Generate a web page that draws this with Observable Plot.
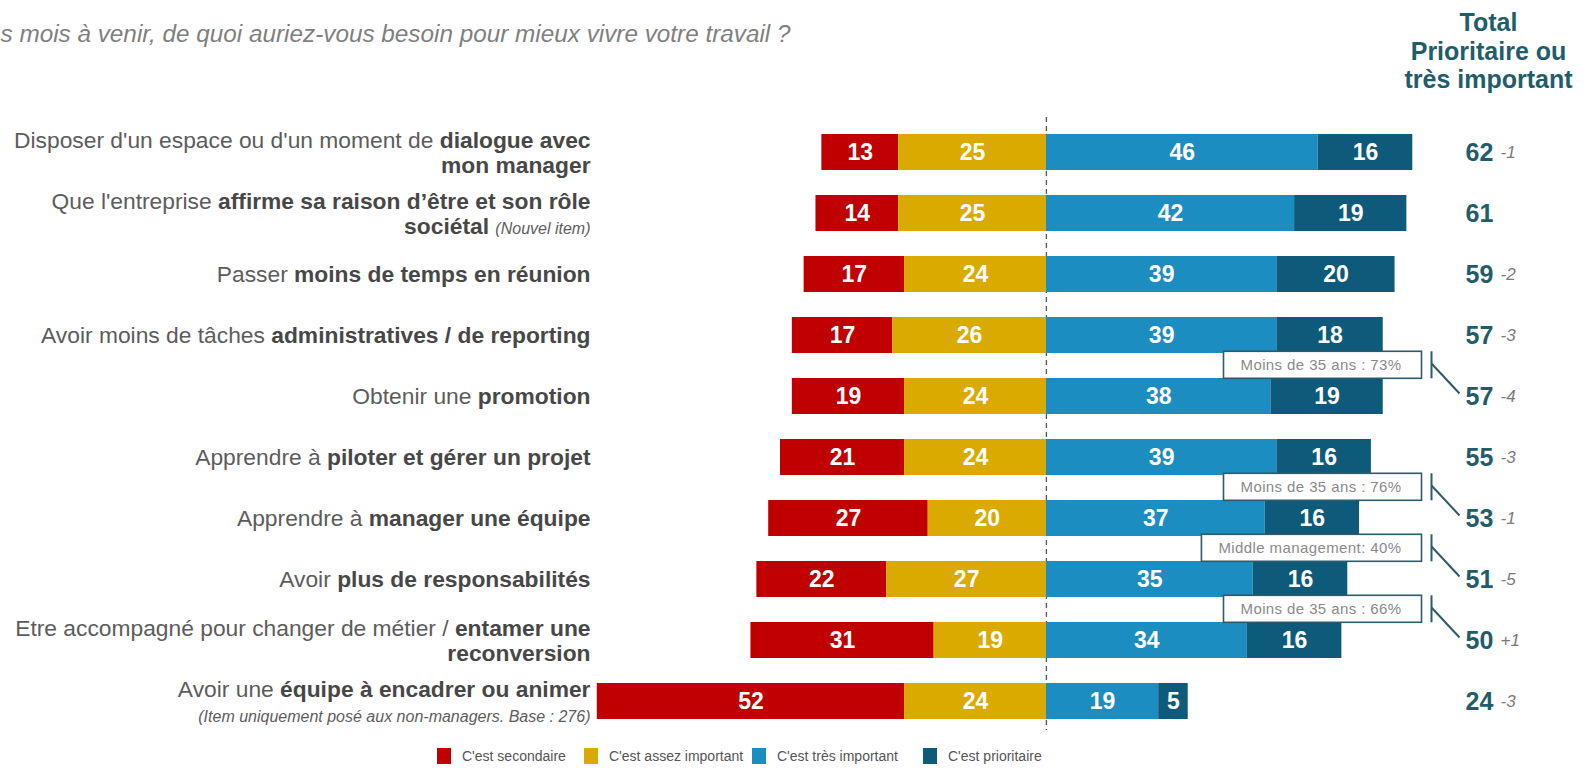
<!DOCTYPE html>
<html><head><meta charset="utf-8">
<script src="https://cdn.jsdelivr.net/npm/d3@7"></script>
<script src="https://cdn.jsdelivr.net/npm/@observablehq/plot@0.6"></script>
<style>
html,body{margin:0;padding:0;background:#fff;width:1586px;height:774px;overflow:hidden;font-family:'Liberation Sans',Arial,sans-serif;}
#legend{position:relative;height:52px;}
.item{position:absolute;top:0;height:52px;display:flex;align-items:center;font-size:14px;color:#555;white-space:nowrap;}
.sw{width:14px;height:16px;margin-right:11px;}
</style></head><body><div id="chart"></div><div id="legend"></div>
<script>
const categories = [
  "Disposer d'un espace ou d'un moment de dialogue avec mon manager",
  "Que l'entreprise affirme sa raison d’être et son rôle sociétal",
  "Passer moins de temps en réunion",
  "Avoir moins de tâches administratives / de reporting",
  "Obtenir une promotion",
  "Apprendre à piloter et gérer un projet",
  "Apprendre à manager une équipe",
  "Avoir plus de responsabilités",
  "Etre accompagné pour changer de métier / entamer une reconversion",
  "Avoir une équipe à encadrer ou animer"
];
const labelMarkup = [
  "Disposer d'un espace ou d'un moment de **dialogue avec**\n**mon manager**",
  "Que l'entreprise **affirme sa raison d’être et son rôle**\n**sociétal** _(Nouvel item)_",
  "Passer **moins de temps en réunion**",
  "Avoir moins de tâches **administratives / de reporting**",
  "Obtenir une **promotion**",
  "Apprendre à **piloter et gérer un projet**",
  "Apprendre à **manager une équipe**",
  "Avoir **plus de responsabilités**",
  "Etre accompagné pour changer de métier / **entamer une**\n**reconversion**",
  "Avoir une **équipe à encadrer ou animer**\n_(Item uniquement posé aux non-managers. Base : 276)_"
];
const series = ["C'est secondaire", "C'est assez important", "C'est très important", "C'est prioritaire"];
const colors = ["#c00000", "#dbaa00", "#1b8dc1", "#0e5a7b"];
const secondaire = [13, 14, 17, 17, 19, 21, 27, 22, 31, 52];
const assez = [25, 25, 24, 26, 24, 24, 20, 27, 19, 24];
const tres = [46, 42, 39, 39, 38, 39, 37, 35, 34, 19];
const prioritaire = [16, 19, 20, 18, 19, 16, 16, 16, 16, 5];
const totals = [62, 61, 59, 57, 57, 55, 53, 51, 50, 24];
const changes = ["-1", "", "-2", "-3", "-4", "-3", "-1", "-5", "+1", "-3"];
const annotationRows = [4, 6, 7, 8];
const annotationTexts = ["Moins de 35 ans : 73%", "Moins de 35 ans : 76%", "Middle management: 40%", "Moins de 35 ans : 66%"];
const titleText = "s mois à venir, de quoi auriez-vous besoin pour mieux vivre votre travail ?";
const headerText = "Total\nPrioritaire ou\ntrès important";

const rows = [];
categories.forEach((c, i) => {
  rows.push({cat: c, s: series[0], v: -secondaire[i], n: secondaire[i]});
  rows.push({cat: c, s: series[1], v: -assez[i], n: assez[i]});
  rows.push({cat: c, s: series[2], v: tres[i], n: tres[i]});
  rows.push({cat: c, s: series[3], v: prioritaire[i], n: prioritaire[i]});
});
const stackOrder = [series[1], series[0], series[2], series[3]];
const strip = s => s.replace(/\*\*/g, "").replace(/_/g, "");
const ann = annotationRows.map((r, k) => ({cat: categories[r], t: annotationTexts[k]}));

const teal = "#1f5d6b";
const plot = Plot.plot({
  width: 1586, height: 730,
  marginLeft: 0, marginRight: 0, marginTop: 0, marginBottom: 0,
  style: {fontFamily: "'Liberation Sans', Arial, sans-serif", background: "white", overflow: "visible"},
  x: {domain: [-177, 91.4], range: [0, 1586], axis: null},
  y: {domain: categories, range: [117, 735], paddingInner: 0.41, paddingOuter: 0.205, axis: null},
  color: {domain: series, range: colors},
  marks: [
    Plot.ruleX([0], {stroke: "#555", strokeWidth: 1.3, strokeDasharray: "5,4", insetTop: 117}),
    Plot.barX(rows, Plot.stackX({x: "v", y: "cat", fill: "s", order: stackOrder})),
    Plot.text(rows, Plot.stackX({x: "v", y: "cat", z: "s", order: stackOrder, text: "n", fill: "white", fontWeight: "bold", fontSize: 23})),
    Plot.text(categories, {y: d => d, text: (d, i) => strip(labelMarkup[i]), frameAnchor: "left", dx: 590, textAnchor: "end", fontSize: 22.8, fill: "#5c5c5c", className: "lbl"}),
    Plot.text(categories, {y: d => d, text: (d, i) => String(totals[i]), frameAnchor: "left", dx: 1465, textAnchor: "start", fontSize: 25, fontWeight: "bold", fill: teal}),
    Plot.text(categories, {y: d => d, text: (d, i) => changes[i], frameAnchor: "left", dx: 1500, textAnchor: "start", fontSize: 17, fontStyle: "italic", fill: "#7a7a7a"}),
    Plot.text(ann, {y: "cat", text: "t", frameAnchor: "left", dx: 1401, dy: -31, textAnchor: "end", fontSize: 15, fill: "#8a8a8a", className: "ann"}),
    Plot.text([titleText], {frameAnchor: "top-left", dx: 0, dy: 34, textAnchor: "start", lineAnchor: "middle", fontSize: 24.3, fontStyle: "italic", fill: "#7f7f7f"}),
    Plot.text([headerText], {frameAnchor: "top-left", dx: 1488, dy: 50, textAnchor: "middle", lineAnchor: "middle", lineHeight: 1.14, fontSize: 25, fontWeight: "bold", fill: teal})
  ]
});
document.getElementById("chart").append(plot);

const NS = "http://www.w3.org/2000/svg";
function parseLine(line) {
  return line.split(/(\*\*[^*]+\*\*|_[^_]+_)/).filter(s => s.length).map(s => {
    if (s.startsWith("**")) return {t: s.slice(2, -2), b: true};
    if (s.startsWith("_")) return {t: s.slice(1, -1), i: true};
    return {t: s};
  });
}
plot.querySelectorAll("g.lbl text").forEach((t, i) => {
  const lines = labelMarkup[i].split("\n");
  while (t.firstChild) t.removeChild(t.firstChild);
  t.removeAttribute("dy");
  t.setAttribute("style", "white-space:pre");
  const n = lines.length;
  lines.forEach((line, j) => {
    const lt = document.createElementNS(NS, "tspan");
    lt.setAttribute("x", 0);
    lt.setAttribute("y", ((j - (n - 1) / 2) * 25 + 7.8).toFixed(1));
    parseLine(line).forEach(seg => {
      const s = document.createElementNS(NS, "tspan");
      s.textContent = seg.t;
      if (seg.b) { s.setAttribute("font-weight", "bold"); s.setAttribute("fill", "#474747"); }
      if (seg.i) { s.setAttribute("font-style", "italic"); s.setAttribute("font-size", "16"); }
      lt.appendChild(s);
    });
    t.appendChild(lt);
  });
});
plot.querySelectorAll("g.ann text").forEach(t => {
  t.setAttribute("letter-spacing", "0.4");
  const bb = t.getBBox();
  const g = document.createElementNS(NS, "g");
  const tr = t.getAttribute("transform");
  if (tr) g.setAttribute("transform", tr);
  const right = 20, top = bb.y - 5, h = bb.height + 10;
  const rect = document.createElementNS(NS, "rect");
  rect.setAttribute("x", bb.x - 17); rect.setAttribute("y", top);
  rect.setAttribute("width", right - bb.x + 17); rect.setAttribute("height", h);
  rect.setAttribute("fill", "white"); rect.setAttribute("stroke", "#2d5b69"); rect.setAttribute("stroke-width", 1.6);
  g.appendChild(rect);
  const mk = (x1, y1, x2, y2) => {
    const l = document.createElementNS(NS, "line");
    l.setAttribute("x1", x1); l.setAttribute("y1", y1); l.setAttribute("x2", x2); l.setAttribute("y2", y2);
    l.setAttribute("stroke", "#2d5b69"); l.setAttribute("stroke-width", 2);
    g.appendChild(l);
  };
  mk(30, top, 30, top + h);
  mk(30, top + h * 0.45, 58, 28);
  t.parentNode.insertBefore(g, t);
});

const legend = document.getElementById("legend");
const lefts = [437, 584, 752, 923];
series.forEach((s, i) => {
  const it = document.createElement("div");
  it.className = "item";
  it.style.left = lefts[i] + "px";
  const sw = document.createElement("div");
  sw.className = "sw"; sw.style.background = colors[i];
  const tx = document.createElement("span");
  tx.textContent = s;
  it.append(sw, tx);
  legend.append(it);
});
</script></body></html>
